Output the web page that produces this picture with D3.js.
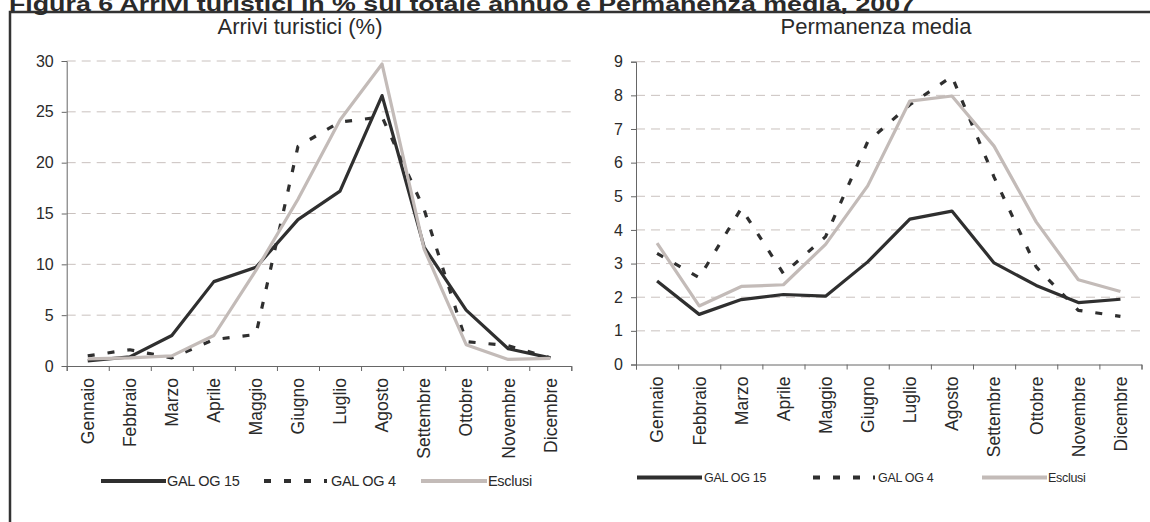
<!DOCTYPE html>
<html>
<head>
<meta charset="utf-8">
<script src="https://cdn.jsdelivr.net/npm/d3@7"></script>
<style>
  html, body { margin: 0; padding: 0; background: #fff; }
  svg { display: block; font-family: "Liberation Sans", Arial, sans-serif; }
</style>
</head>
<body>
<svg id="chart" width="1150" height="522"></svg>
<script>
// ---- DATA ----
const months = ["Gennaio","Febbraio","Marzo","Aprile","Maggio","Giugno","Luglio","Agosto","Settembre","Ottobre","Novembre","Dicembre"];
const seriesNames = ["GAL OG 15", "GAL OG 4", "Esclusi"];

const arriviGal15   = [0.5, 0.9, 3.0, 8.3, 9.7, 14.4, 17.2, 26.6, 11.7, 5.5, 1.7, 0.8];
const arriviGal4    = [1.0, 1.6, 0.8, 2.6, 3.1, 21.6, 24.0, 24.5, 15.4, 2.4, 2.0, 0.8];
const arriviEsclusi = [0.7, 0.8, 1.0, 3.0, 9.4, 16.4, 24.2, 29.7, 11.5, 2.1, 0.65, 0.75];

const permGal15   = [2.48, 1.49, 1.93, 2.08, 2.03, 3.05, 4.32, 4.56, 3.02, 2.35, 1.84, 1.94];
const permGal4    = [3.3, 2.58, 4.64, 2.7, 3.8, 6.62, 7.72, 8.56, 5.57, 2.9, 1.61, 1.43];
const permEsclusi = [3.61, 1.74, 2.32, 2.37, 3.57, 5.31, 7.83, 7.98, 6.49, 4.24, 2.52, 2.17];

const arriviTicks = [0, 5, 10, 15, 20, 25, 30];
const permTicks   = [0, 1, 2, 3, 4, 5, 6, 7, 8, 9];

const mainTitle = "Figura 6  Arrivi turistici in % sul totale annuo e Permanenza media, 2007";
const titleLeft = "Arrivi turistici (%)";
const titleRight = "Permanenza media";

// ---- STYLE ----
const DARK = "#2f2f2f";
const GREY = "#c3bbb8";
const GRID = "#c9c1be";
const TEXT = "#2a2a2a";
const styles = [
  { stroke: DARK, dash: null },
  { stroke: DARK, dash: "7,13" },
  { stroke: GREY, dash: null }
];

const svg = d3.select("#chart");

// frame + main title
svg.append("path")
  .attr("d", "M10,522 V12 H1150")
  .attr("fill", "none").attr("stroke", "#333").attr("stroke-width", 2.5);
svg.append("text")
  .attr("x", 9).attr("y", 10.5)
  .attr("font-size", 20).attr("font-weight", "bold").attr("fill", TEXT)
  .attr("textLength", 906).attr("lengthAdjust", "spacingAndGlyphs")
  .text(mainTitle);

function drawPanel(cfg) {
  const g = svg.append("g");
  const x = d3.scaleBand().domain(months).range([cfg.x0, cfg.x1]).padding(0);
  const xb = d3.scaleLinear().domain([0, months.length]).range([cfg.x0, cfg.x1]);
  const y = d3.scaleLinear().domain(cfg.domain).range([cfg.y0, cfg.y1]);

  // gridlines
  g.append("g").selectAll("line")
    .data(cfg.ticks.filter(t => t > 0))
    .join("line")
    .attr("x1", cfg.x0).attr("x2", cfg.x1)
    .attr("y1", d => y(d)).attr("y2", d => y(d))
    .attr("stroke", GRID).attr("stroke-width", 1)
    .attr("stroke-dasharray", "9,6");

  // y axis
  const ya = g.append("g")
    .attr("transform", `translate(${cfg.x0},0)`)
    .call(d3.axisLeft(y).tickValues(cfg.ticks).tickSize(5).tickPadding(8).tickFormat(d3.format("d")));
  ya.select(".domain").attr("stroke", "#666");
  ya.selectAll(".tick line").attr("stroke", "#666");
  ya.selectAll("text").attr("font-size", 16).attr("fill", TEXT).attr("font-family", "Liberation Sans, Arial, sans-serif");

  // x axis boundary ticks
  const xt = g.append("g")
    .attr("transform", `translate(0,${cfg.y0})`)
    .call(d3.axisBottom(xb).tickValues(d3.range(0, months.length + 1)).tickSize(5).tickFormat(""));
  xt.select(".domain").attr("stroke", "#666");
  xt.selectAll(".tick line").attr("stroke", "#666");

  // x labels
  const xl = g.append("g")
    .attr("transform", `translate(0,${cfg.y0})`)
    .call(d3.axisBottom(x).tickSize(0));
  xl.select(".domain").remove();
  xl.selectAll("text")
    .attr("transform", "rotate(-90)")
    .attr("x", -12).attr("y", 0).attr("dy", "0.36em")
    .attr("text-anchor", "end")
    .attr("font-size", 17.5).attr("fill", TEXT)
    .attr("font-family", "Liberation Sans, Arial, sans-serif");

  // lines
  const line = d3.line()
    .x((d, i) => x(months[i]) + x.bandwidth() / 2)
    .y(d => y(d));
  cfg.series.forEach((s, i) => {
    g.append("path")
      .datum(s)
      .attr("d", line)
      .attr("fill", "none")
      .attr("stroke", styles[i].stroke)
      .attr("stroke-width", 3.2)
      .attr("stroke-linejoin", "round")
      .attr("stroke-dasharray", styles[i].dash);
  });

  // panel title
  g.append("text")
    .attr("x", cfg.titleX).attr("y", 34)
    .attr("text-anchor", "middle")
    .attr("font-size", 22).attr("fill", TEXT)
    .text(cfg.title);

  // legend
  const lg = g.append("g");
  cfg.legend.forEach((L, i) => {
    lg.append("line")
      .attr("x1", L[0]).attr("x2", L[1])
      .attr("y1", cfg.legendY).attr("y2", cfg.legendY)
      .attr("stroke", styles[i].stroke)
      .attr("stroke-width", 4)
      .attr("stroke-dasharray", styles[i].dash);
    lg.append("text")
      .attr("x", L[2]).attr("y", cfg.legendY)
      .attr("dy", "0.36em")
      .attr("font-size", cfg.legendFont).attr("fill", TEXT)
      .attr("letter-spacing", -0.3)
      .text(seriesNames[i]);
  });
}

drawPanel({
  x0: 66.7, x1: 571.3, y0: 366, y1: 61, domain: [0, 30], ticks: arriviTicks,
  series: [arriviGal15, arriviGal4, arriviEsclusi],
  title: titleLeft, titleX: 300,
  legendY: 481, legendFont: 14.5,
  legend: [[101, 166, 167], [264, 327, 331], [421, 487, 488]]
});

drawPanel({
  x0: 636, x1: 1141.5, y0: 364.5, y1: 61.7, domain: [0, 9], ticks: permTicks,
  series: [permGal15, permGal4, permEsclusi],
  title: titleRight, titleX: 876,
  legendY: 477.5, legendFont: 12.5,
  legend: [[637, 702, 704], [813, 875, 878], [982, 1047, 1048]]
});
</script>
</body>
</html>
